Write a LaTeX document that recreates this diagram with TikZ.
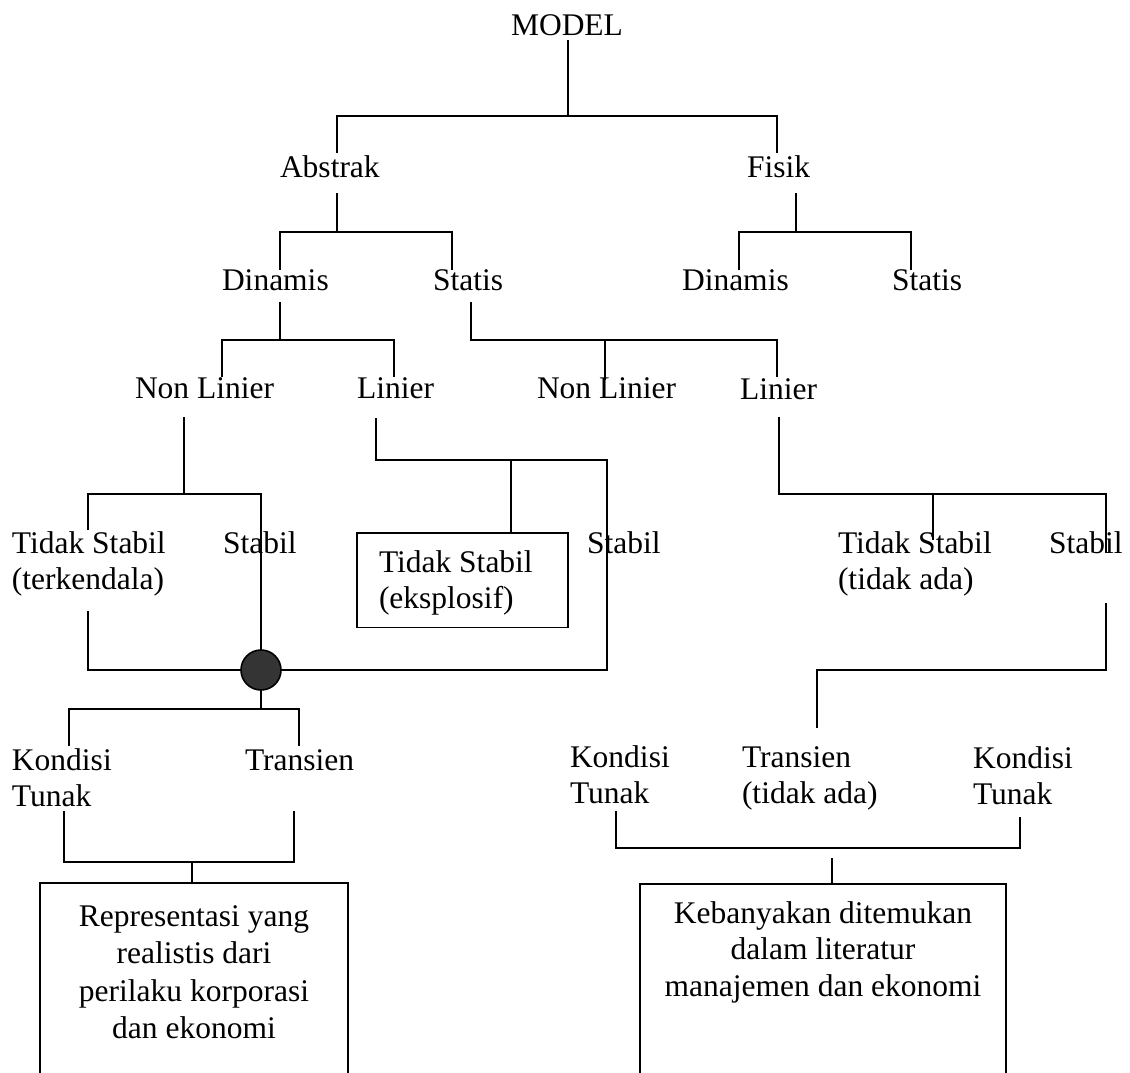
\documentclass[tikz,border=0pt]{standalone}
\usepackage{fontspec}
\setmainfont{Liberation Serif}
\usetikzlibrary{calc}
\definecolor{hubgray}{RGB}{52,52,52}
% stacked labels whose anchor is the first baseline
\newcommand{\stackL}[1]{\begin{tabular}[t]{@{}l@{}}#1\end{tabular}}
\newcommand{\stackC}[1]{\begin{tabular}[t]{@{}c@{}}#1\end{tabular}}
\begin{document}
\begin{tikzpicture}[x=1pt,y=-1pt,
  every node/.style={inner sep=0pt, outer sep=0pt, font=\fontsize{31.5}{36.5}\selectfont},
  lbl/.style={anchor=base west},
  framed/.style={draw, line width=1.6pt, anchor=north west},
  link/.style={line width=1.8pt},
]
\useasboundingbox (0,0) rectangle (1130,1072);
\fill[white] (0,0) rectangle (1130,1072);
\clip (0,0) rectangle (1130,1072);

% ---- labels ----
\node[lbl] (model) at (511,35) {MODEL};
\node[lbl] (abstrak) at (280,177) {Abstrak};
\node[lbl] (fisik) at (747,177) {Fisik};
\node[lbl] (dinA) at (222,290) {Dinamis};
\node[lbl] (statA) at (433,290) {Statis};
\node[lbl] (dinF) at (682,290) {Dinamis};
\node[lbl] (statF) at (892,290) {Statis};
\node[lbl] (nlD) at (135,398) {Non Linier};
\node[lbl] (linD) at (357,398) {Linier};
\node[lbl] (nlS) at (537,398) {Non Linier};
\node[lbl] (linS) at (740,399) {Linier};
\node[lbl] (tsT) at (12,553) {\stackL{Tidak Stabil\\(terkendala)}};
\node[lbl] (stN) at (223,553) {Stabil};
\node[framed, inner xsep=22pt, inner ysep=13.45pt, text depth=42pt] (tsE) at (357,533)
  {\begin{tabular}[t]{@{}p{167pt}@{}}Tidak Stabil\\(eksplosif)\end{tabular}};
\node[lbl] (stM) at (587,553) {Stabil};
\node[lbl] (tsR) at (838,553) {\stackL{Tidak Stabil\\(tidak ada)}};
\node[lbl] (stR) at (1049,553) {Stabil};
\node[circle, draw, fill=hubgray, minimum size=40pt, line width=1.6pt] (hub) at (261,670) {};
\node[lbl] (ktL) at (12,770) {\stackL{Kondisi\\Tunak}};
\node[lbl] (trL) at (245,770) {Transien};
\node[lbl] (ktA) at (570,767) {\stackL{Kondisi\\Tunak}};
\node[lbl] (trR) at (742,767) {\stackL{Transien\\(tidak ada)}};
\node[lbl] (ktB) at (973,768) {\stackL{Kondisi\\Tunak}};
\node[framed, minimum width=308pt, inner ysep=16.75pt, text depth=260pt,
      font=\fontsize{31.5}{37.5}\selectfont] (resL) at (40,883)
  {\stackC{Representasi yang\\realistis dari\\perilaku korporasi\\dan ekonomi}};
\node[framed, minimum width=366pt, inner ysep=13.45pt, text depth=260pt] (resR) at (640,884)
  {\stackC{Kebanyakan ditemukan\\dalam literatur\\manajemen dan ekonomi}};

% ---- line ends and junctions ----
\coordinate (model-out) at (568,40);   \coordinate (j-model) at (568,116);
\coordinate (abstrak-in) at (337,153); \coordinate (fisik-in) at (777,153);
\coordinate (abstrak-out) at (337,193); \coordinate (j-abstrak) at (337,232);
\coordinate (dinA-in) at (280,270);    \coordinate (statA-in) at (452,270);
\coordinate (fisik-out) at (796,193);  \coordinate (j-fisik) at (796,232);
\coordinate (dinF-in) at (739,270);    \coordinate (statF-in) at (911,270);
\coordinate (dinA-out) at (280,302);   \coordinate (j-dinA) at (280,340);
\coordinate (nlD-in) at (222,377);     \coordinate (linD-in) at (394,377);
\coordinate (statA-out) at (471,302);  \coordinate (j-statA) at (471,340);
\coordinate (nlS-in) at (605,380);     \coordinate (linS-in) at (777,377);
\coordinate (nlD-out) at (184,417);    \coordinate (j-nlD) at (184,494);
\coordinate (tsT-in) at (88,530);      \coordinate (tsT-out) at (88,611);
\coordinate (linD-out) at (376,418);   \coordinate (c-linD) at (607,460);
\coordinate (j-linD) at (511,460);
\coordinate (j-hub) at (261,709);
\coordinate (ktL-in) at (69,746);      \coordinate (trL-in) at (299,746);
\coordinate (ktL-out) at (64,811);     \coordinate (trL-out) at (294,811);
\coordinate (j-left) at (192,862);
\coordinate (linS-out) at (779,417);   \coordinate (c-linS) at (1106,494);
\coordinate (j-linS) at (933,494);     \coordinate (tsR-in) at (933,540);
\coordinate (stR-in) at (1106,553);    \coordinate (stR-out) at (1106,603);
\coordinate (c-stR) at (1106,670);     \coordinate (trR-in) at (817,728);
\coordinate (ktA-out) at (616,811);    \coordinate (ktB-out) at (1020,817);
\coordinate (j-right) at (832,848);    \coordinate (res-in) at (832,858);

% ---- connectors ----
\begin{scope}[link]
\draw (model-out) -- (j-model);
\draw (abstrak-in) |- (j-model) -| (fisik-in);
\draw (abstrak-out) -- (j-abstrak);
\draw (dinA-in) |- (j-abstrak) -| (statA-in);
\draw (fisik-out) -- (j-fisik);
\draw (dinF-in) |- (j-fisik) -| (statF-in);
\draw (dinA-out) -- (j-dinA);
\draw (nlD-in) |- (j-dinA) -| (linD-in);
\draw (statA-out) -- (j-statA) -| (linS-in);
\draw (nlS-in) -- (nlS-in |- j-statA);
\draw (nlD-out) -- (j-nlD);
\draw (tsT-in) |- (j-nlD) -| (hub.north);
\draw (linD-out) |- (c-linD) -- (c-linD |- hub) -- (hub.east);
\draw (j-linD) -- (j-linD |- tsE.north);
\draw (tsT-out) |- (hub.west);
\draw (hub.south) -- (j-hub);
\draw (ktL-in) |- (j-hub) -| (trL-in);
\draw (ktL-out) |- (j-left) -| (trL-out);
\draw (j-left) -- (j-left |- resL.north);
\draw (linS-out) |- (c-linS) -- (stR-in);
\draw (j-linS) -- (tsR-in);
\draw (stR-out) -- (c-stR) -| (trR-in);
\draw (ktA-out) |- (j-right) -| (ktB-out);
\draw (res-in) -- (res-in |- resR.north);
\end{scope}
\end{tikzpicture}
\end{document}
